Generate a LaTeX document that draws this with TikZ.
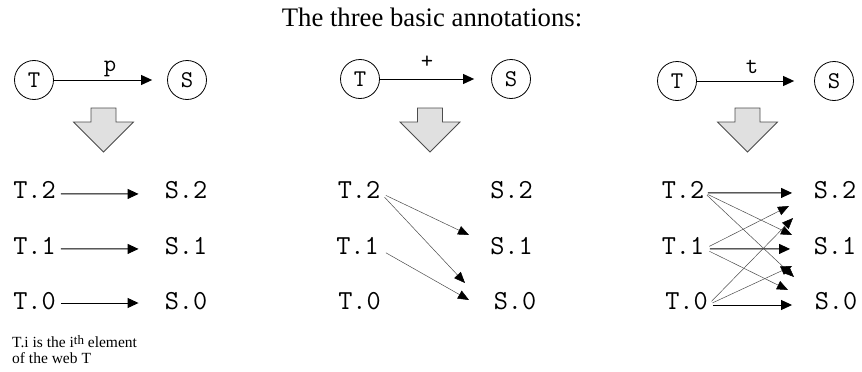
\documentclass[tikz,border=0pt]{standalone}
\usepackage{fontspec}
\setmainfont{Liberation Serif}
\usetikzlibrary{arrows.meta}
\begin{document}
\begin{tikzpicture}[x=1pt,y=-1pt,
  mono/.style={font=\fontsize{27.5}{27.5}\selectfont\ttfamily, inner sep=0pt, anchor=base},
  circ/.style={circle, draw, line width=0.8pt, minimum size=39pt, inner sep=0pt, font=\fontsize{24}{24}\selectfont\ttfamily},
  lbl/.style={font=\fontsize{24}{24}\selectfont\ttfamily, inner sep=0pt},
  arr/.style={-{Triangle[length=11pt,width=10pt]}, line width=1pt},
  darr/.style={-{Triangle[length=11pt,width=9pt,color=black]}, line width=0.5pt, draw=black!70},
  blk/.style={draw=black!70, fill=black!12, line width=0.8pt, line join=miter},
  note/.style={font=\fontsize{15.5}{16}\selectfont, inner sep=0pt, anchor=base west}
]
\useasboundingbox (0,0) rectangle (862,372);

% title
\node[font=\fontsize{26.7}{28}\selectfont, inner sep=0pt, anchor=base] (title) at (432,27) {The three basic annotations:};

% top: circles
\node[circ] (T1) at (34,80) {T};
\node[circ] (S1) at (187,80) {S};
\node[circ] (T2) at (360,79) {T};
\node[circ] (S2) at (511,79) {S};
\node[circ] (T3) at (677,81) {T};
\node[circ] (S3) at (834,81) {S};

\draw[arr, shorten >=15pt] (T1) -- (S1);
\draw[arr, shorten >=17pt] (T2) -- (S2);
\draw[arr, shorten >=20pt] (T3) -- (S3);

\node[lbl, anchor=base] (lp) at (110,71) {p};
\node[lbl] (lplus) at (427,62.5) {+};
\node[lbl, anchor=base] (lt) at (752,73) {t};

% block arrows
\foreach \cx/\nm in {103.5/b1, 430/b2, 747.5/b3}{
  \draw[blk] (\cx-12.5,108) -- (\cx+12.5,108) -- (\cx+12.5,122) -- (\cx+30,122)
     -- (\cx,152) -- (\cx-30,122) -- (\cx-12.5,122) -- cycle;
}

% panel 1 elements
\node[mono] (p1t2) at (34.5,198) {T.2};
\node[mono] (p1t1) at (34.5,254) {T.1};
\node[mono] (p1t0) at (34.5,309) {T.0};
\node[mono] (p1s2) at (186,198) {S.2};
\node[mono] (p1s1) at (186,254) {S.1};
\node[mono] (p1s0) at (186,309) {S.0};

\draw[arr, shorten <=5pt, shorten >=26pt] ([yshift=-4.4pt]p1t2.east) -- ([yshift=-4.4pt]p1s2.west);
\draw[arr, shorten <=5pt, shorten >=26pt] ([yshift=-3.4pt]p1t1.east) -- ([yshift=-3.4pt]p1s1.west);
\draw[arr, shorten <=5pt, shorten >=26pt] ([yshift=-2.4pt]p1t0.east) -- ([yshift=-2.4pt]p1s0.west);

% panel 2 elements
\node[mono] (p2t2) at (359,198) {T.2};
\node[mono] (p2t1) at (357.5,254) {T.1};
\node[mono] (p2t0) at (359.5,309) {T.0};
\node[mono] (p2s2) at (511.5,198) {S.2};
\node[mono] (p2s1) at (511.5,254) {S.1};
\node[mono] (p2s0) at (515,309) {S.0};

\coordinate (p2e1) at (469,235);
\coordinate (p2e2) at (465,283);
\coordinate (p2e3) at (469,300);
\draw[darr, shorten <=6pt] ([yshift=-3.4pt]p2t2.east) -- (p2e1);
\draw[darr, shorten <=6pt] ([yshift=-3.4pt]p2t2.east) -- (p2e2);
\draw[darr, shorten <=8pt] ([yshift=-3.4pt]p2t1.east) -- (p2e3);

% panel 3 elements
\node[mono] (p3t2) at (683,198) {T.2};
\node[mono] (p3t1) at (683,254) {T.1};
\node[mono] (p3t0) at (686.5,309) {T.0};
\node[mono] (p3s2) at (835,198) {S.2};
\node[mono] (p3s1) at (835,254) {S.1};
\node[mono] (p3s0) at (836,309) {S.0};

\coordinate (q21) at (792,235);
\coordinate (q20) at (794,277);
\coordinate (q12) at (789,206);
\coordinate (q10) at (788,290);
\coordinate (q02) at (793,218);
\coordinate (q01) at (792,266);

\draw[arr, shorten <=3.5pt, shorten >=21.5pt] ([yshift=-3.4pt]p3t2.east) -- ([yshift=-3.4pt]p3s2.west);
\draw[arr, shorten <=5.5pt, shorten >=23.5pt] ([yshift=-3.4pt]p3t1.east) -- ([yshift=-3.4pt]p3s1.west);
\draw[arr, shorten <=5pt, shorten >=22.5pt] ([yshift=-4.4pt]p3t0.east) -- ([yshift=-4.4pt]p3s0.west);

\draw[darr, shorten <=3.5pt] ([yshift=-3.4pt]p3t2.east) -- (q21);
\draw[darr, shorten <=3.5pt] ([yshift=-3.4pt]p3t2.east) -- (q20);
\draw[darr, shorten <=5.5pt] ([yshift=-3.4pt]p3t1.east) -- (q12);
\draw[darr, shorten <=5.5pt] ([yshift=-3.4pt]p3t1.east) -- (q10);
\draw[darr, shorten <=5pt] ([yshift=-4.4pt]p3t0.east) -- (q02);
\draw[darr, shorten <=5pt] ([yshift=-4.4pt]p3t0.east) -- (q01);

% footnote
\node[note] (n1) at (12,347) {T.i is the i\raisebox{0.4ex}{\fontsize{13}{13}\selectfont th} element};
\node[note] (n2) at (12,363) {of the web T};
\end{tikzpicture}
\end{document}
